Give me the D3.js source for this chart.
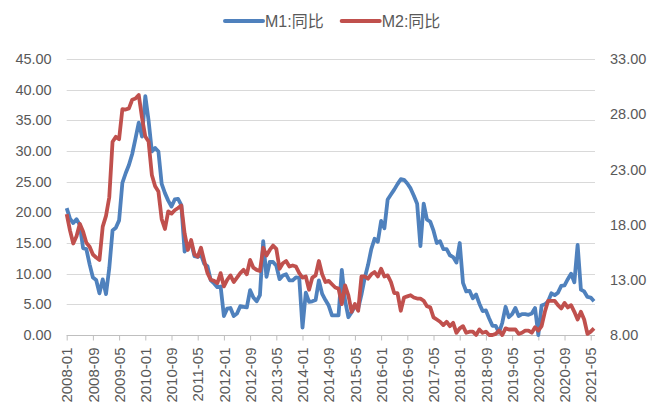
<!DOCTYPE html>
<html>
<head>
<meta charset="utf-8">
<script src="https://cdn.jsdelivr.net/npm/d3@7"></script>
<style>
  body { margin: 0; background: #fff; }
  text { font-family: "Liberation Sans", Arial, "Noto Sans CJK SC", sans-serif; fill: #595959; }
</style>
</head>
<body>
<svg width="657" height="408"></svg>
<script>
// monthly yoy growth, 2008-01 .. 2021-06
var startYear = 2008, startMonth = 1, monthCount = 162;

var m1 = [
  20.69, 18.98, 18.25, 18.89, 17.95, 14.17, 14.00, 11.52, 9.38, 8.96, 6.80, 9.06,
  6.68, 10.91, 17.04, 17.48, 18.69, 24.79, 26.37, 27.72, 29.51, 32.03, 34.63, 32.35,
  38.96, 34.99, 29.94, 30.50, 29.93, 24.64, 23.13, 21.91, 20.94, 22.10, 22.20, 21.19,
  13.60, 14.46, 15.04, 12.87, 12.72, 13.10, 11.60, 11.20, 8.90, 8.40, 7.80, 7.90,
  3.10, 4.30, 4.40, 3.10, 3.50, 4.70, 4.60, 4.50, 7.30, 6.10, 5.50, 6.50,
  15.30, 9.50, 11.90, 11.90, 11.30, 9.10, 9.70, 9.90, 8.90, 8.90, 9.40, 9.30,
  1.20, 6.90, 5.40, 5.50, 5.70, 8.90, 6.70, 5.70, 4.80, 3.20, 3.20, 3.20,
  10.60, 5.60, 2.90, 3.70, 4.70, 4.30, 6.60, 9.30, 11.40, 14.00, 15.70, 15.20,
  18.60, 17.40, 22.10, 22.90, 23.70, 24.60, 25.40, 25.30, 24.70, 23.90, 22.70, 21.40,
  14.50, 21.40, 18.80, 18.50, 17.00, 15.00, 15.30, 14.00, 14.00, 13.00, 12.70, 11.80,
  15.00, 8.50, 7.10, 7.20, 6.00, 6.60, 5.10, 3.90, 4.00, 2.70, 1.50, 1.50,
  0.40, 2.00, 4.60, 2.90, 3.40, 4.40, 3.10, 3.40, 3.40, 3.30, 3.50, 4.40,
  0.00, 4.80, 5.00, 5.50, 6.80, 6.50, 6.90, 8.00, 8.10, 9.10, 10.00, 8.60,
  14.70, 7.40, 7.10, 6.20, 6.10, 5.50
];

var m2 = [
  18.94, 17.48, 16.29, 16.94, 18.07, 17.37, 16.35, 16.00, 15.29, 15.02, 14.80, 17.82,
  18.79, 20.48, 25.51, 25.95, 25.74, 28.46, 28.42, 28.53, 29.31, 29.42, 29.74, 27.68,
  25.98, 25.52, 22.50, 21.48, 21.00, 18.50, 17.60, 19.20, 19.00, 19.30, 19.50, 19.72,
  17.20, 15.70, 16.60, 15.30, 15.10, 15.90, 14.70, 13.60, 13.00, 12.90, 12.70, 13.60,
  12.40, 13.00, 13.40, 12.80, 13.20, 13.60, 13.90, 13.50, 14.80, 14.10, 13.90, 13.80,
  15.90, 15.20, 15.70, 16.10, 15.80, 14.00, 14.50, 14.70, 14.20, 14.30, 14.20, 13.60,
  13.20, 13.30, 12.10, 13.20, 13.40, 14.70, 13.50, 12.80, 12.90, 12.60, 12.30, 12.20,
  10.80, 12.50, 11.60, 10.10, 10.80, 10.20, 13.30, 13.30, 13.10, 13.50, 13.70, 13.30,
  14.00, 13.30, 13.40, 12.80, 11.80, 11.80, 10.20, 11.40, 11.50, 11.60, 11.40, 11.30,
  11.30, 11.10, 10.60, 10.50, 9.60, 9.40, 9.20, 8.90, 9.20, 8.80, 9.10, 8.20,
  8.60, 8.80, 8.20, 8.30, 8.30, 8.00, 8.50, 8.20, 8.30, 8.00, 8.00, 8.10,
  8.40, 8.00, 8.60, 8.50, 8.50, 8.50, 8.10, 8.20, 8.40, 8.40, 8.20, 8.70,
  8.40, 8.80, 10.10, 11.10, 11.10, 11.10, 10.70, 10.40, 10.90, 10.50, 10.70, 10.10,
  9.40, 10.10, 9.40, 8.10, 8.30, 8.60
];

var leftTicks = [0, 5, 10, 15, 20, 25, 30, 35, 40, 45];
var rightTicks = [8, 13, 18, 23, 28, 33];
var seriesNames = ["M1:同比", "M2:同比"];
var colors = ["#4f81bd", "#c0504d"];

// category labels like 2008-01
var dates = [];
for (var i = 0; i < monthCount; i++) {
  var mm = startMonth - 1 + i;
  var yy = startYear + Math.floor(mm / 12);
  dates.push(yy + "-" + String(mm % 12 + 1).padStart(2, "0"));
}
var dateTicks = dates.filter(function(d, i) { return i % 8 === 0; });

var svg = d3.select("svg");
var plotLeft = 66.7, plotRight = 594, plotTop = 59, plotBottom = 335;

var x = d3.scalePoint().domain(dates).range([plotLeft, plotRight]);
var yL = d3.scaleLinear().domain([0, 45]).range([plotBottom, plotTop]);
var yR = d3.scaleLinear().domain([8, 33]).range([plotBottom, plotTop]);

// gridlines
svg.append("g")
  .selectAll("line")
  .data(leftTicks)
  .enter().append("line")
  .attr("x1", plotLeft)
  .attr("x2", plotRight + 1)
  .attr("y1", function(d) { return Math.round(yL(d)) + 0.5; })
  .attr("y2", function(d) { return Math.round(yL(d)) + 0.5; })
  .attr("stroke", "#d9d9d9")
  .attr("stroke-width", 1);

// left axis
var gl = svg.append("g")
  .attr("transform", "translate(" + plotLeft + ",0)")
  .call(d3.axisLeft(yL).tickValues(leftTicks).tickFormat(d3.format(".2f")).tickSize(0).tickPadding(15));
gl.select(".domain").remove();
gl.selectAll("text").attr("font-size", "14.5px").style("font-family", null);

// right axis
var gr = svg.append("g")
  .attr("transform", "translate(" + plotRight + ",0)")
  .call(d3.axisRight(yR).tickValues(rightTicks).tickFormat(d3.format(".2f")).tickSize(0).tickPadding(16));
gr.select(".domain").remove();
gr.selectAll("text").attr("font-size", "14.5px").style("font-family", null);

// bottom axis
var gb = svg.append("g")
  .attr("transform", "translate(0," + (plotBottom + 0.5) + ")")
  .call(d3.axisBottom(x).tickValues(dateTicks).tickSize(5).tickSizeOuter(0));
gb.select(".domain").attr("stroke", "#bfbfbf").attr("d", "M" + plotLeft + ",0H" + (plotRight + 1));
gb.selectAll(".tick line").attr("stroke", "#bfbfbf");
gb.selectAll("text")
  .attr("font-size", "15px")
  .style("font-family", null)
  .attr("text-anchor", "end")
  .attr("transform", "rotate(-90)")
  .attr("x", -12)
  .attr("y", 0)
  .attr("dy", "0.35em");

// lines
var lineL = d3.line()
  .x(function(d, i) { return x(dates[i]); })
  .y(function(d) { return yL(d); });
var lineR = d3.line()
  .x(function(d, i) { return x(dates[i]); })
  .y(function(d) { return yR(d); });

svg.append("path")
  .datum(m1)
  .attr("d", lineL)
  .attr("fill", "none")
  .attr("stroke", colors[0])
  .attr("stroke-width", 3.8)
  .attr("stroke-linejoin", "round");

svg.append("path")
  .datum(m2)
  .attr("d", lineR)
  .attr("fill", "none")
  .attr("stroke", colors[1])
  .attr("stroke-width", 3.8)
  .attr("stroke-linejoin", "round");

// legend
var legendX = [225, 341.7];
var legend = svg.append("g")
  .selectAll("g")
  .data(seriesNames)
  .enter().append("g")
  .attr("transform", function(d, i) { return "translate(" + legendX[i] + ",21)"; });
legend.append("line")
  .attr("x1", 0)
  .attr("x2", 38)
  .attr("stroke", function(d, i) { return colors[i]; })
  .attr("stroke-width", 4)
  .attr("stroke-linecap", "round");
legend.append("text")
  .attr("x", 40)
  .attr("dy", "0.35em")
  .attr("font-size", "16px")
  .text(function(d) { return d; });
</script>
</body>
</html>
